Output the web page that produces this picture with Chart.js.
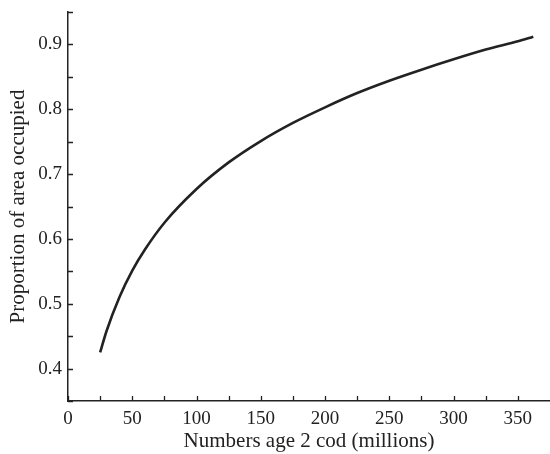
<!DOCTYPE html>
<html>
<head>
<meta charset="utf-8">
<script src="https://cdn.jsdelivr.net/npm/chart.js@4/dist/chart.umd.min.js"></script>
<style>
  html, body { margin: 0; padding: 0; background: #fff; }
  #wrap { width: 550px; height: 454px; }
</style>
</head>
<body>
<div id="wrap"><canvas id="codChart"></canvas></div>
<script>
// Numbers of age 2 cod (millions) and proportion of area occupied
const codNumbers = [25, 30, 40, 50, 60, 75, 100, 125, 150, 175, 200, 225, 250, 275, 300, 325, 350, 362];
const areaProportion = [0.425, 0.458, 0.51, 0.551, 0.584, 0.625, 0.677, 0.718, 0.751, 0.779, 0.803, 0.825, 0.844, 0.861, 0.877, 0.892, 0.905, 0.912];

const xLabels = [0, 50, 100, 150, 200, 250, 300, 350];
const yLabels = [0.4, 0.5, 0.6, 0.7, 0.8, 0.9];

const FONT = '"Liberation Serif", "DejaVu Serif", serif';
const INK = '#222';

// Inward tick marks, drawn from the scales' own ticks
const innerTicks = {
  id: 'innerTicks',
  afterDraw(chart) {
    const { ctx, scales: { x, y } } = chart;
    ctx.save();
    ctx.strokeStyle = INK;
    ctx.lineWidth = 1.3;
    ctx.beginPath();
    x.ticks.forEach(t => {
      if (t.value > 360) return;
      const px = Math.round(x.getPixelForValue(t.value)) + 0.5;
      ctx.moveTo(px, x.top);
      ctx.lineTo(px, x.top - 5);
    });
    y.ticks.forEach(t => {
      const py = Math.round(y.getPixelForValue(t.value)) + 0.5;
      ctx.moveTo(y.right, py);
      ctx.lineTo(y.right + 5, py);
    });
    ctx.stroke();
    ctx.restore();
  }
};

new Chart(document.getElementById('codChart').getContext('2d'), {
  type: 'line',
  data: {
    datasets: [{
      data: codNumbers.map((v, i) => ({ x: v, y: areaProportion[i] })),
      borderColor: INK,
      borderWidth: 2.6,
      pointRadius: 0,
      fill: false,
      cubicInterpolationMode: 'monotone'
    }]
  },
  options: {
    responsive: true,
    maintainAspectRatio: false,
    animation: false,
    layout: { padding: { top: 12, right: 0, left: 0, bottom: 0 } },
    plugins: { legend: { display: false }, tooltip: { enabled: false } },
    scales: {
      x: {
        type: 'linear',
        min: 0,
        max: 375,
        grid: { display: false, drawTicks: false },
        border: { display: true, color: INK, width: 1.5 },
        ticks: {
          stepSize: 25,
          padding: 7,
          maxRotation: 0,
          autoSkip: false,
          color: INK,
          font: { family: FONT, size: 19 },
          callback: v => xLabels.includes(v) ? String(v) : ''
        },
        title: {
          display: true,
          text: 'Numbers age 2 cod (millions)',
          color: INK,
          font: { family: FONT, size: 21 },
          padding: { top: 2, bottom: 0 }
        },
        afterFit: s => { s.height = 53; s.paddingRight = 0; s.paddingLeft = 0; }
      },
      y: {
        type: 'linear',
        min: 0.35,
        max: 0.95,
        grid: { display: false, drawTicks: false },
        border: { display: true, color: INK, width: 1.5 },
        ticks: {
          stepSize: 0.05,
          padding: 6,
          autoSkip: false,
          color: INK,
          font: { family: FONT, size: 19 },
          callback: v => {
            const r = Math.round(v * 100) / 100;
            return yLabels.some(l => Math.abs(l - r) < 1e-6) ? r.toFixed(1) : '';
          }
        },
        title: {
          display: true,
          text: 'Proportion of area occupied',
          color: INK,
          font: { family: FONT, size: 21 },
          padding: { top: 6, bottom: 0 }
        },
        afterFit: s => { s.width = 68; s.paddingTop = 0; s.paddingBottom = 0; }
      }
    }
  },
  plugins: [innerTicks]
});
</script>
</body>
</html>
